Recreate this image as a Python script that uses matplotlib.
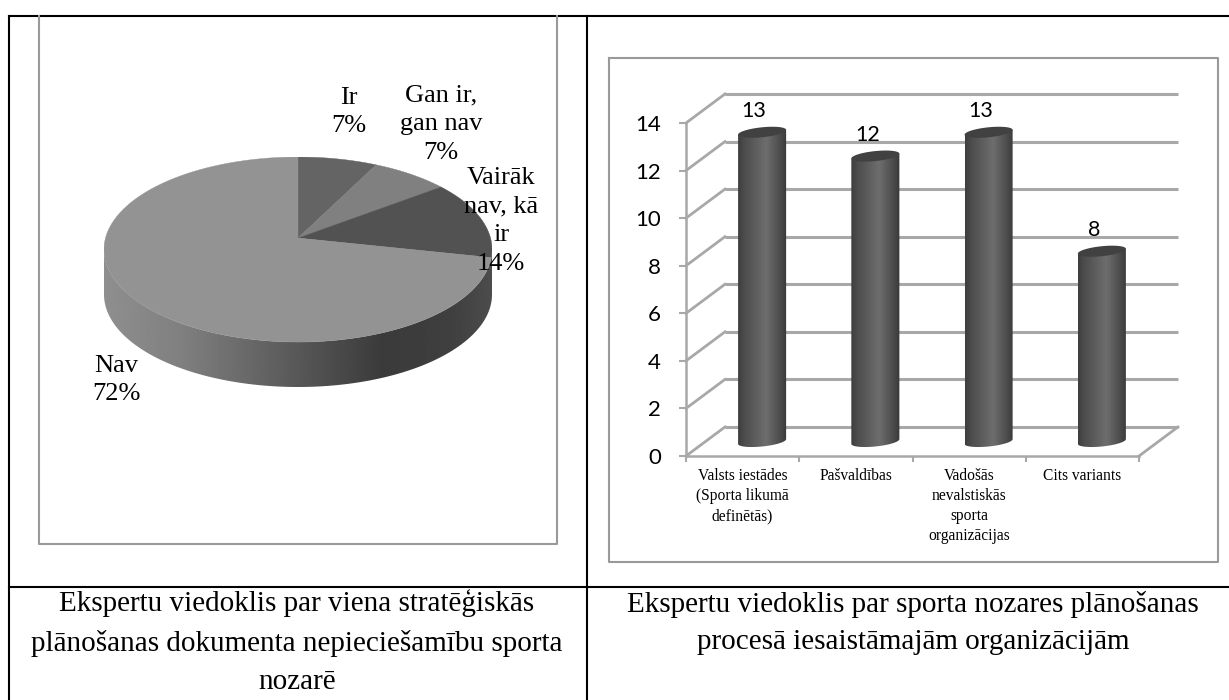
import numpy as np
import matplotlib
matplotlib.use('Agg')
import matplotlib.pyplot as plt
from matplotlib.patches import Polygon

# pie data, clockwise from 12 o'clock
pie_names = ['Ir\n7%', 'Gan ir,\ngan nav\n7%', 'Vairāk\nnav, kā\nir\n14%', 'Nav\n72%']
pie_values = [7, 7, 14, 72]
pie_colors = ['#646464', '#808080', '#525252', '#939393']

# bar data
bar_names = ['Valsts iestādes\n(Sporta likumā\ndefinētās)', 'Pašvaldības',
             'Vadošās\nnevalstiskās\nsporta\norganizācijas', 'Cits variants']
bar_values = [13, 12, 13, 8]
y_ticks = [0, 2, 4, 6, 8, 10, 12, 14]

caption_left = 'Ekspertu viedoklis par viena stratēģiskās\nplānošanas dokumenta nepieciešamību sporta\nnozarē'
caption_right = 'Ekspertu viedoklis par sporta nozares plānošanas\nprocesā iesaistāmajām organizācijām'

W, H = 1229, 700
SERIF = 'Liberation Serif'
GRID = '#a8a8a8'
FRAME = '#999999'

fig = plt.figure(figsize=(W / 100, H / 100), dpi=100, facecolor='white')


def px_axes(x0, y0, x1, y1):
    # axes from pixel box, y measured from the top
    return fig.add_axes([x0 / W, 1 - y1 / H, (x1 - x0) / W, (y1 - y0) / H])


# page: table lines and chart frames
bg = px_axes(0, 0, W, H)
bg.set_xlim(0, W)
bg.set_ylim(H, 0)
bg.axis('off')
for x in [8.5, 587]:
    bg.plot([x, x], [16, H], color='black', lw=1.5)
for y in [16, 587]:
    bg.plot([8.5, W], [y, y], color='black', lw=1.5)
bg.plot([39, 39, 557, 557], [16, 544, 544, 16], color=FRAME, lw=1.5)
bg.plot([609, 609, 1218, 1218, 609], [58, 562, 562, 58, 58], color=FRAME, lw=1.5)
bg.text(297, 642, caption_left, family=SERIF, fontsize=21, ha='center', va='center', linespacing=1.6)
bg.text(913, 623, caption_right, family=SERIF, fontsize=21, ha='center', va='center', linespacing=1.52)

# pie, unit ellipse in data coordinates, y range includes the side wall
depth = 0.486
pie = px_axes(104, 157, 492, 387)
pie.axis('off')
apex = (0, 0.124)

t = np.linspace(np.pi, 2 * np.pi, 200)
side = np.vstack([np.c_[np.cos(t), np.sin(t)],
                  np.c_[np.cos(t[::-1]), np.sin(t[::-1]) - depth]])
side_patch = Polygon(side, closed=True, transform=pie.transData, fc='none', ec='none')
pie.add_patch(side_patch)
shade = np.interp(np.linspace(0, 1, 256), [0, 0.2, 0.72, 0.9, 1], [0.56, 0.5, 0.23, 0.25, 0.3])
im = pie.imshow(shade[None, :], extent=[-1, 1, -1 - depth, 0.1], cmap='gray', vmin=0, vmax=1, aspect='auto')
im.set_clip_path(side_patch)

start = 0
for value, color in zip(pie_values, pie_colors):
    a = np.linspace(start, start + value * 3.6, 120)
    # tilted view squeezes the angles near the top right
    a = np.radians(np.interp(a, [0, 100.8, 360], [0, 95, 360]))
    rim = np.c_[np.sin(a), np.cos(a)]
    pie.fill(np.r_[apex[0], rim[:, 0]], np.r_[apex[1], rim[:, 1]], color=color, lw=0.3)
    start += value * 3.6
pie.set_xlim(-1, 1)
pie.set_ylim(-1 - depth, 1)

label_pos = [(349, 112), (441, 124), (501, 221), (116, 380)]
for name, (x, y) in zip(pie_names, label_pos):
    fig.text(x / W, 1 - y / H, name, family=SERIF, fontsize=19, ha='center', va='center',
             linespacing=1.41, zorder=10)

# bars on a fake 3D wall
ax = px_axes(686, 123, 1139, 456)
ax.patch.set_alpha(0)
dx, dy = 0.344, 1.22

for v in y_ticks:
    ax.plot([dx, 4 + dx], [v + dy, v + dy], color=GRID, lw=2.2, clip_on=False, zorder=1, solid_capstyle='butt')
    ax.plot([0, dx], [v, v + dy], color=GRID, lw=2.0, clip_on=False, zorder=1)
ax.plot([4, 4 + dx], [0, dy], color=GRID, lw=2.0, clip_on=False, zorder=1)

half = 0.212
b, k = 0.21, 0.1
shade = np.interp(np.linspace(0, 1, 128), [0, 0.12, 0.58, 0.9, 1], [0.24, 0.3, 0.43, 0.28, 0.22])
t = np.linspace(0, 2 * np.pi, 120)
low = np.linspace(np.pi, 2 * np.pi, 60)
for i, v in enumerate(bar_values):
    cx = i + 0.5 + dx / 2
    ytop = v + dy / 2
    ybot = dy / 2
    body = np.vstack([[[cx - half, ytop - k], [cx + half, ytop + k]],
                      np.c_[cx + half * np.cos(low[::-1]), ybot + b * np.sin(low[::-1]) + k * np.cos(low[::-1])]])
    patch = Polygon(body, closed=True, fc='none', ec='none', zorder=2)
    ax.add_patch(patch)
    im = ax.imshow(shade[None, :], extent=[cx - half, cx + half, ybot - 1, ytop + 1], cmap='gray',
                   vmin=0, vmax=1, aspect='auto', zorder=3)
    im.set_clip_path(patch)
    ax.fill(cx + half * np.cos(t), ytop + b * np.sin(t) + k * np.cos(t), color='#414141', lw=0,
            clip_on=False, zorder=4)
    ax.text(cx - 0.07, ytop + 0.88, str(v), family='Lato', fontsize=15.5, ha='center', va='center',
            zorder=5, clip_on=False)
ax.set_xlim(0, 4)
ax.set_ylim(0, 14)

for s in ['top', 'right']:
    ax.spines[s].set_visible(False)
for s in ['left', 'bottom']:
    ax.spines[s].set_color(GRID)
    ax.spines[s].set_linewidth(1.8)

ax.set_yticks(y_ticks)
ax.set_yticklabels([str(v) for v in y_ticks], family='Lato', fontsize=16)
ax.tick_params(axis='y', length=5, width=1.5, color=GRID, pad=13)
ax.set_xticks(range(5))
ax.set_xticklabels([])
ax.tick_params(axis='x', which='major', length=4, width=1.5, color=GRID)
ax.set_xticks(np.arange(len(bar_names)) + 0.5, minor=True)
ax.set_xticklabels(bar_names, minor=True, family=SERIF, fontsize=11.2, linespacing=1.32)
ax.tick_params(axis='x', which='minor', length=0, pad=9)

fig.savefig('out.png', dpi=100)
